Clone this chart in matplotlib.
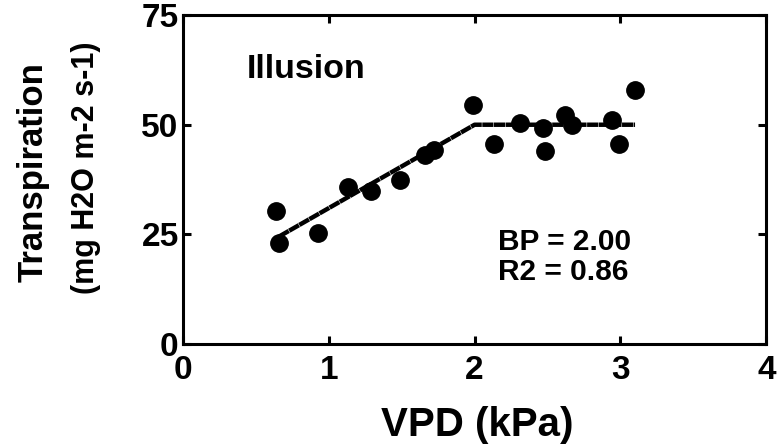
import matplotlib.pyplot as plt

plt.rcParams["font.family"] = ["Liberation Sans", "DejaVu Sans"]
plt.rcParams["font.weight"] = "bold"

# data
vpd = [0.64, 0.66, 0.93, 1.13, 1.29, 1.49, 1.66, 1.72, 1.99,
       2.13, 2.31, 2.47, 2.48, 2.62, 2.67, 2.94, 2.99, 3.10]
transpiration = [30.3, 23.0, 25.2, 35.9, 34.9, 37.5, 43.1, 44.2, 54.5,
                 45.6, 50.3, 49.2, 44.1, 52.2, 49.9, 51.1, 45.7, 58.0]

# segmented fit: rising part up to the break point, then plateau
fit_x = [0.66, 2.00, 3.10]
fit_y = [24.5, 50.0, 50.0]

x_ticks = [0, 1, 2, 3, 4]
y_ticks = [0, 25, 50, 75]

fig = plt.figure(figsize=(7.78, 4.46), dpi=100)
ax = fig.add_axes([0.235, 0.229, 0.75, 0.737])

ax.plot(fit_x, fit_y, color="black", lw=3.2, linestyle=(0, (2.5, 0.12)),
        solid_capstyle="butt", zorder=2)
ax.plot(vpd, transpiration, "o", color="black", markersize=12.5, zorder=3)

ax.set_xlim(0, 4)
ax.set_ylim(0, 75)
ax.set_xticks(x_ticks)
ax.set_yticks(y_ticks)

for s in ax.spines.values():
    s.set_linewidth(2.2)
ax.tick_params(direction="in", length=6, width=2.2, top=True, right=True,
               labelsize=24)
ax.tick_params(axis="x", pad=8)
ax.tick_params(axis="y", pad=3)

ax.text(0.44, 62.7, "Illusion", fontsize=24.5, fontweight="bold",
        ha="left", va="center")
ax.text(2.16, 19.8, "BP = 2.00\nR2 = 0.86", fontsize=21.5, fontweight="bold",
        ha="left", va="center", linespacing=1.1)

fig.text(0.613, 0.047, "VPD (kPa)", fontsize=29, fontweight="bold",
         ha="center", va="center")
fig.text(0.042, 0.614, "Transpiration", fontsize=25, fontweight="bold",
         rotation=90, ha="center", va="center")
fig.text(0.11, 0.623, "(mg H2O m-2 s-1)", fontsize=22, fontweight="bold",
         rotation=90, ha="center", va="center")

fig.savefig("out.png", dpi=100)
